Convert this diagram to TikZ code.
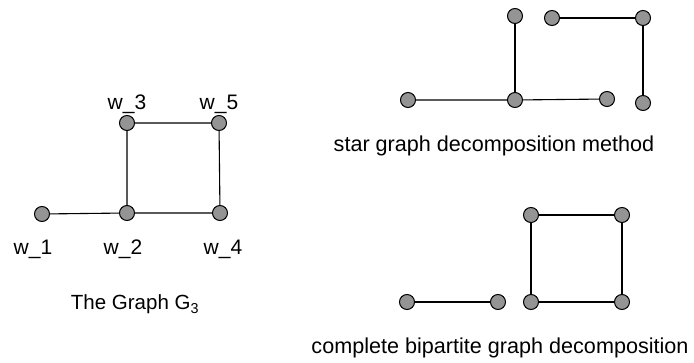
\documentclass[tikz,border=0pt]{standalone}
\usepackage{fontspec}
\setmainfont{Liberation Sans}
\usetikzlibrary{positioning}

\begin{document}
\begin{tikzpicture}[
    x=1pt, y=-1pt,
    vertex/.style={circle, draw, line width=1pt, fill=black!42, inner sep=0pt, minimum size=15pt},
    edge/.style={line width=1.1pt},
    lbl/.style={anchor=base, inner sep=0pt, font=\fontsize{21}{23}\selectfont},
    caption/.style={anchor=base, inner sep=0pt, font=\fontsize{21.6}{24}\selectfont}
]
\useasboundingbox (0,0) rectangle (694,363);

% the graph G_3
\node[vertex] (w1) at (42,214) {};
\node[vertex] (w2) at (127,213) {};
\node[vertex] (w4) at (220,213) {};
\node[vertex] (w3) at (127,123) {};
\node[vertex] (w5) at (219,123) {};
\draw[edge] (w1) -- (w2) -- (w4) -- (w5) -- (w3) -- (w2);

\node[lbl] (l3) at (127,110) {w\_3};
\node[lbl] (l5) at (219,110) {w\_5};
\node[lbl] (l1) at (33,255) {w\_1};
\node[lbl] (l2) at (123,255) {w\_2};
\node[lbl] (l4) at (223,255) {w\_4};
\node[caption, font=\fontsize{20.5}{23}\selectfont] (cg) at (135,310) {The Graph G\textsubscript{3}};

% star graph decomposition
\node[vertex] (a1) at (408,100) {};
\node[vertex] (a2) at (515,100) {};
\node[vertex] (a3) at (607,99) {};
\node[vertex] (a4) at (515,16) {};
\node[vertex] (b1) at (552,18) {};
\node[vertex] (b2) at (643,18) {};
\node[vertex] (b3) at (643,103) {};
\draw[edge] (a1) -- (a2) -- (a3);
\draw[edge] (a2) -- (a4);
\draw[edge] (b1) -- (b2) -- (b3);
\node[caption] (cs) at (494,152) {star graph decomposition method};

% complete bipartite graph decomposition
\node[vertex] (c1) at (407,302) {};
\node[vertex] (c2) at (498,302) {};
\node[vertex] (d1) at (531,302) {};
\node[vertex] (d2) at (622,302) {};
\node[vertex] (d3) at (531,215) {};
\node[vertex] (d4) at (622,215) {};
\draw[edge] (c1) -- (c2);
\draw[edge] (d1) -- (d2) -- (d4) -- (d3) -- (d1);
\node[caption] (cb) at (500,354) {complete bipartite graph decomposition};
\end{tikzpicture}
\end{document}
